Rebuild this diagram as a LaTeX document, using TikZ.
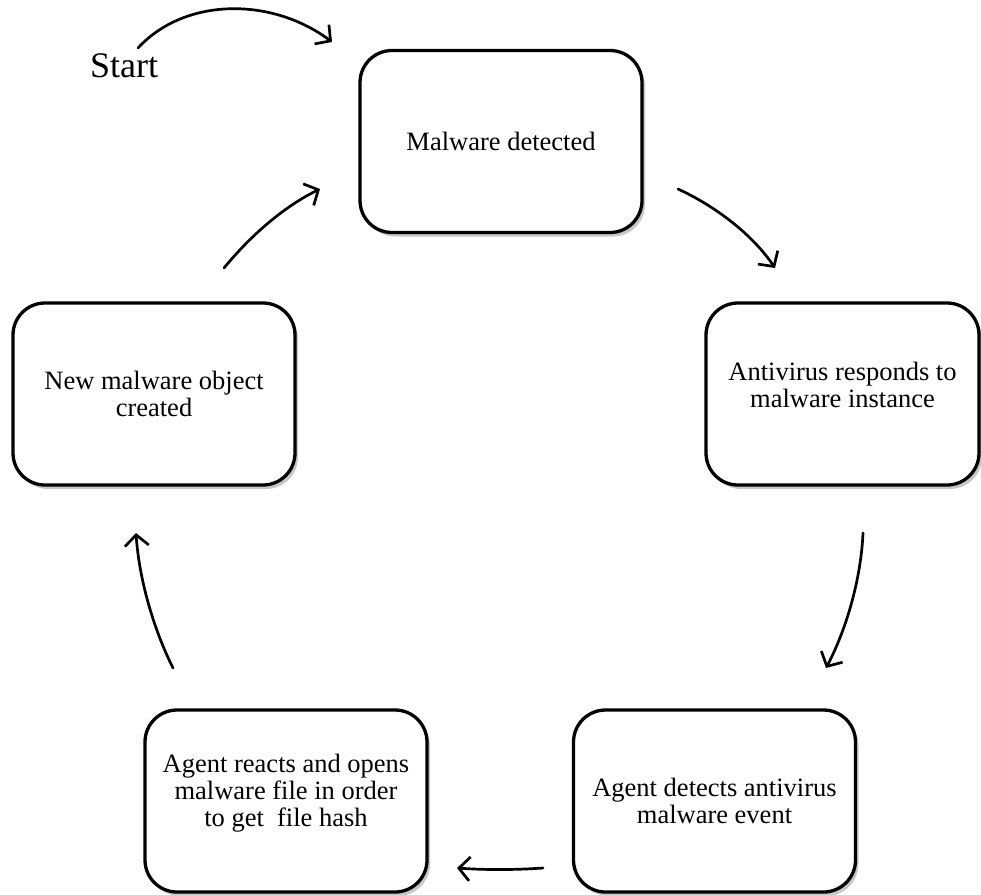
\documentclass[tikz,border=0pt]{standalone}
\usepackage{fontspec}
\setmainfont{Liberation Serif}
\usetikzlibrary{arrows.meta,shadows}
\begin{document}
\begin{tikzpicture}[x=1pt,y=-1pt,
  stage/.style={draw=black, line width=3.3pt, rounded corners=32pt, fill=white,
    align=center, font=\fontsize{26.5}{27}\selectfont, inner sep=0pt,
    minimum width=282pt, minimum height=182pt,
    drop shadow={shadow xshift=3pt, shadow yshift=-4pt, opacity=0.22, fill=black}},
  flow/.style={line width=2.7pt, line cap=round,
    -{Straight Barb[length=11pt,width=24pt,line width=2.7pt]}}]
\useasboundingbox (0,0) rectangle (981,894);

% the five stages of the cycle
\node[stage] (det) at (501,141.5) {Malware detected};
% a short empty last line lifts the wording a little above the middle
\node[stage, minimum width=273pt] (av) at (842.5,394)
  {Antivirus responds to\\malware instance\\[-8pt]\mbox{}};
\node[stage] (evt) at (714.5,801) {Agent detects antivirus\\malware event};
\node[stage] (hash) at (286,801)
  {Agent reacts and opens\\malware file in order\\to get\ \ file hash\\[-5pt]\mbox{}};
\node[stage] (obj) at (154,394) {New malware object\\created};

\node[font=\fontsize{36}{40}\selectfont, inner sep=0pt, anchor=base] (start) at (124,77) {Start};

% free ends of the connectors
\coordinate (s0) at (138,48);   \coordinate (s1) at (332,42);
\coordinate (a0) at (678,189);  \coordinate (a1) at (775,268);
\coordinate (b0) at (863,533);  \coordinate (b1) at (826,668);
\coordinate (c0) at (543,868);  \coordinate (c1) at (457,868);
\coordinate (d0) at (173,668);  \coordinate (d1) at (136,533);
\coordinate (e0) at (224,268);  \coordinate (e1) at (320,189);

\draw[flow] (s0) .. controls (185,-3) and (272,-3) .. (s1);
\draw[flow] (a0) .. controls (715,206) and (752,234) .. (a1);
\draw[flow] (b0) .. controls (861,578) and (847,628) .. (b1);
\draw[flow] (c0) .. controls (515,870) and (485,870) .. (c1);
\draw[flow] (d0) .. controls (153,628) and (139,578) .. (d1);
\draw[flow] (e0) .. controls (252,234) and (285,206) .. (e1);
\end{tikzpicture}
\end{document}
